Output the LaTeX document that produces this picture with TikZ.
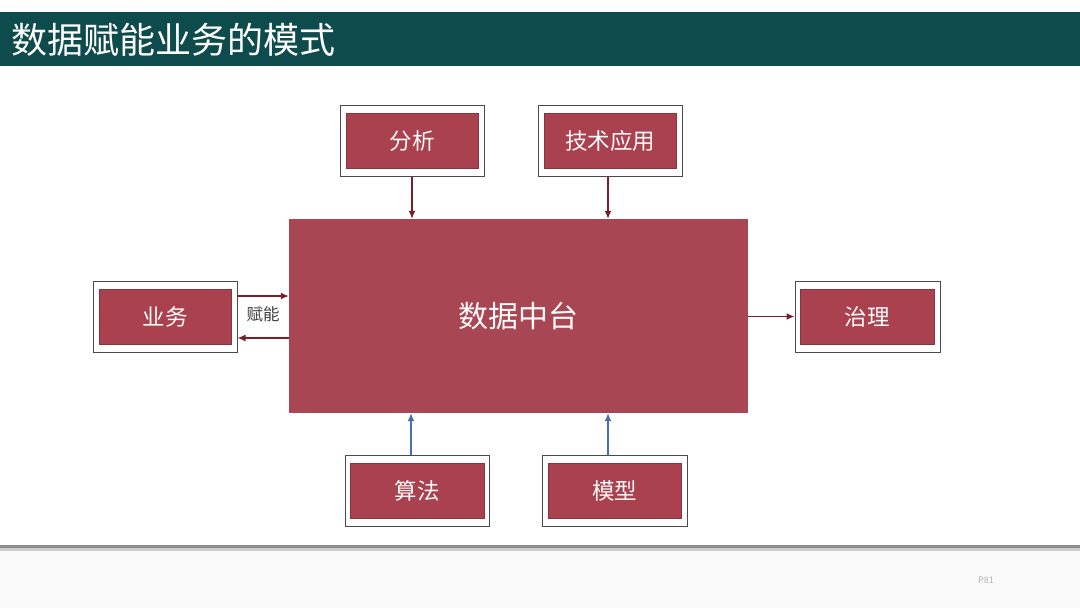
\documentclass[tikz,border=0pt]{standalone}
\usepackage{fontspec}
\setmainfont{Noto Sans CJK SC}
\usetikzlibrary{arrows.meta}
\definecolor{titlebg}{HTML}{0E4B4D}
\definecolor{boxred}{HTML}{A9414F}
\definecolor{midred}{HTML}{A84753}
\definecolor{arrred}{HTML}{7A1E2C}
\definecolor{arrblue}{HTML}{4B6DB0}
\definecolor{framegray}{HTML}{4A4A4A}
\tikzset{
  outerbox/.style={draw=framegray, line width=1pt, fill=white, minimum width=144pt, minimum height=71pt, inner sep=0pt},
  innerbox/.style={fill=boxred, draw=boxred!80!black, line width=0.4pt, minimum width=132pt, minimum height=55pt, inner sep=0pt, text=white!92!pink, font=\fontsize{22.5pt}{25pt}\selectfont},
  redarrow/.style={draw=arrred, line width=1.3pt, -{Latex[length=8pt,width=7pt]}},
  bluearrow/.style={draw=arrblue, line width=1.3pt, -{Latex[length=8pt,width=7pt]}},
}
\begin{document}
\begin{tikzpicture}[x=1pt,y=-1pt]
\useasboundingbox (0,0) rectangle (1080,608);
\fill[white] (0,0) rectangle (1080,608);
% lower area and shadow
\fill[black!2] (0,548) rectangle (1080,608);
\fill[black!45] (0,545) rectangle (1080,548);
\fill[black!20] (0,548) rectangle (1080,551);
% title bar
\fill[titlebg] (0,12) rectangle (1080,66);
\node[anchor=west, text=white, font=\fontsize{36pt}{40pt}\selectfont, inner sep=0pt] (title) at (11,40) {数据赋能业务的模式};
% central box
\node[fill=midred, minimum width=459pt, minimum height=194pt, inner sep=0pt, text=white!92!pink, font=\fontsize{30pt}{33pt}\selectfont] (zt) at (518.5,316) {数据中台};
% outer frames
\node[outerbox] (fx-o) at (412,140.5) {};
\node[outerbox] (js-o) at (610,140.5) {};
\node[outerbox] (yw-o) at (165,316.5) {};
\node[outerbox, minimum width=145pt] (zl-o) at (867.5,316.5) {};
\node[outerbox] (sf-o) at (417,490.5) {};
\node[outerbox, minimum width=145pt] (mx-o) at (614.5,490.5) {};
% inner boxes
\node[innerbox] (fx) at (412,140.5) {分析};
\node[innerbox] (js) at (610,140.5) {技术应用};
\node[innerbox] (yw) at (165,316.5) {业务};
\node[innerbox, minimum width=134pt] (zl) at (867,316.5) {治理};
\node[innerbox, minimum width=134pt] (sf) at (417,490.5) {算法};
\node[innerbox, minimum width=133pt] (mx) at (614.5,490.5) {模型};
% connectors
\draw[redarrow] (fx-o.south) -- (fx-o.south |- zt.north);
\draw[redarrow] (js-o.south -| 608,0) -- (608,0 |- zt.north);
\draw[redarrow] ([yshift=20.5pt]yw-o.east) -- ([yshift=20.5pt]yw-o.east -| zt.west);
\draw[redarrow] ([yshift=-21.5pt]yw-o.east -| zt.west) -- ([yshift=-21.5pt]yw-o.east);
\draw[redarrow] (zl-o.west -| zt.east) -- (zl-o.west);
\draw[bluearrow] (sf-o.north -| 411,0) -- (411,0 |- zt.south);
\draw[bluearrow] (mx-o.north -| 608,0) -- (608,0 |- zt.south);
\node[text=black!75, font=\fontsize{16.5pt}{18pt}\selectfont, inner sep=0pt] (fn) at (263,314) {赋能};
% page number
\node[text=black!30, font=\fontsize{9pt}{10pt}\selectfont, inner sep=0pt] (pg) at (986,580) {P81};
\end{tikzpicture}
\end{document}
